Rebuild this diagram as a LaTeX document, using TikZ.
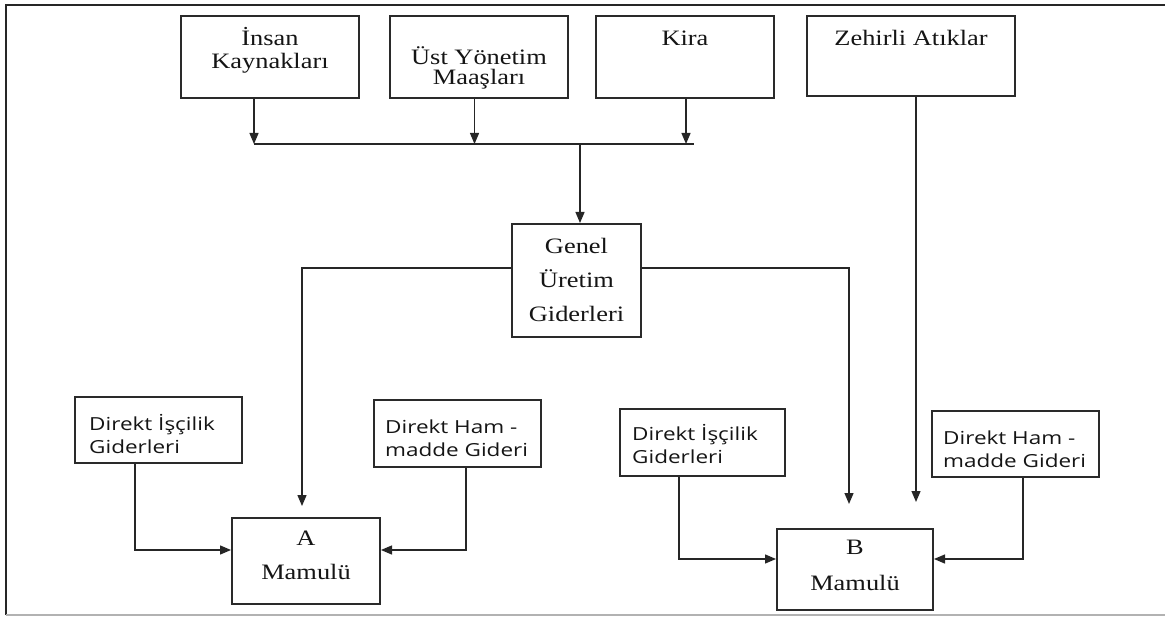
\documentclass[tikz,border=0pt]{standalone}
\usepackage{fontspec}
\setmainfont{Liberation Serif}
\newfontfamily\serifw[FakeStretch=1.2]{Liberation Serif}
\newfontfamily\sansw[FakeStretch=1.25]{Open Sans}
\usetikzlibrary{arrows.meta}
\definecolor{boxline}{HTML}{2A2A2A}
\definecolor{txt}{HTML}{151515}
\tikzset{
  box/.style={draw=boxline, line width=2pt, inner sep=0pt, fill=white},
  sertxt/.style={inner sep=0pt, align=center, text=txt, font=\serifw\fontsize{22}{23}\selectfont},
  santxt/.style={inner sep=0pt, align=left, anchor=west, text=txt, font=\sansw\fontsize{18}{23}\selectfont},
  conn/.style={draw=black!85, line width=1.3pt},
  arr/.style={conn, -{Triangle[width=9pt,length=11pt]}},
}
\begin{document}
\begin{tikzpicture}[x=1pt,y=-1pt]
\useasboundingbox (0,0) rectangle (1165,620);
% frame
\draw[black!85, line width=2.2pt] (6,615) -- (6,5) -- (1166,5);
\draw[black!30, line width=1.5pt] (6,615) -- (1166,615);

% boxes
\node[box, minimum width=178pt, minimum height=82pt] (insan) at (270,57) {};
\node[box, minimum width=178pt, minimum height=82pt] (ust) at (479,57) {};
\node[box, minimum width=178pt, minimum height=82pt] (kira) at (685,57) {};
\node[box, minimum width=208pt, minimum height=80pt] (zehir) at (911,56) {};
\node[box, minimum width=129pt, minimum height=113pt] (genel) at (576.5,280.5) {};
\node[box, minimum width=167pt, minimum height=66pt] (dia) at (158.5,430) {};
\node[box, minimum width=167pt, minimum height=67pt] (dha) at (457.5,433.5) {};
\node[box, minimum width=148pt, minimum height=86pt] (A) at (306,561) {};
\node[box, minimum width=165pt, minimum height=67pt] (dib) at (702.5,442.5) {};
\node[box, minimum width=167pt, minimum height=66pt] (dhb) at (1015.5,444) {};
\node[box, minimum width=156pt, minimum height=81pt] (B) at (855,569.5) {};

% texts
\node[sertxt] (tinsan) at (270,50) {İnsan\\Kaynakları};
\node[sertxt, font=\serifw\fontsize{22}{20}\selectfont] (tust) at (479,68) {Üst Yönetim\\Maaşları};
\node[sertxt] (tkira) at (685,38) {Kira};
\node[sertxt] (tzehir) at (911,38) {Zehirli Atıklar};
\node[sertxt, font=\serifw\fontsize{22}{34}\selectfont] (tgenel) at (576.5,280) {Genel\\Üretim\\Giderleri};
\node[sertxt, font=\serifw\fontsize{22}{34}\selectfont] (tA) at (306,555) {A\\Mamulü};
\node[sertxt, font=\serifw\fontsize{22}{36}\selectfont] (tB) at (855,565) {B\\Mamulü};
\node[santxt] (tdia) at (89,434) {Direkt İşçilik\\Giderleri};
\node[santxt] (tdha) at (385,438) {Direkt Ham -\\madde Gideri};
\node[santxt] (tdib) at (632,444) {Direkt İşçilik\\Giderleri};
\node[santxt] (tdhb) at (943,449) {Direkt Ham -\\madde Gideri};

% junction coordinates
\coordinate (j1) at (254,144);
\coordinate (j2) at (474.5,144);
\coordinate (j3) at (686,144);
\coordinate (jend) at (694,144);
\coordinate (jm) at (580,144);
\coordinate (gl) at (302,268);
\coordinate (gr) at (849,268);
\coordinate (zx) at (916,0);
\coordinate (ay) at (0,550);
\coordinate (by) at (0,559);
\coordinate (xa1) at (135,0);
\coordinate (xa2) at (466,0);
\coordinate (xb1) at (679,0);
\coordinate (xb2) at (1023,0);

% top connectors
\draw[arr] (insan.south -| j1) -- (j1);
\draw[arr] (ust.south -| j2) -- (j2);
\draw[arr] (kira.south -| j3) -- (j3);
\draw[conn] (j1) -- (jend);
\draw[arr] (jm) -- (genel.north -| jm);

% branches
\draw[arr, shorten >=11pt] (genel.west |- gl) -- (gl) -- (A.north -| gl);
\draw[arr, shorten >=24pt] (genel.east |- gr) -- (gr) -- (B.north -| gr);
\draw[arr, shorten >=26pt] (zehir.south -| zx) -- (B.north -| zx);

% direct costs
\draw[arr] (dia.south -| xa1) -- (xa1 |- ay) -- (A.west |- ay);
\draw[arr] (dha.south -| xa2) -- (xa2 |- ay) -- (A.east |- ay);
\draw[arr] (dib.south -| xb1) -- (xb1 |- by) -- (B.west |- by);
\draw[arr] (dhb.south -| xb2) -- (xb2 |- by) -- (B.east |- by);
\end{tikzpicture}
\end{document}
